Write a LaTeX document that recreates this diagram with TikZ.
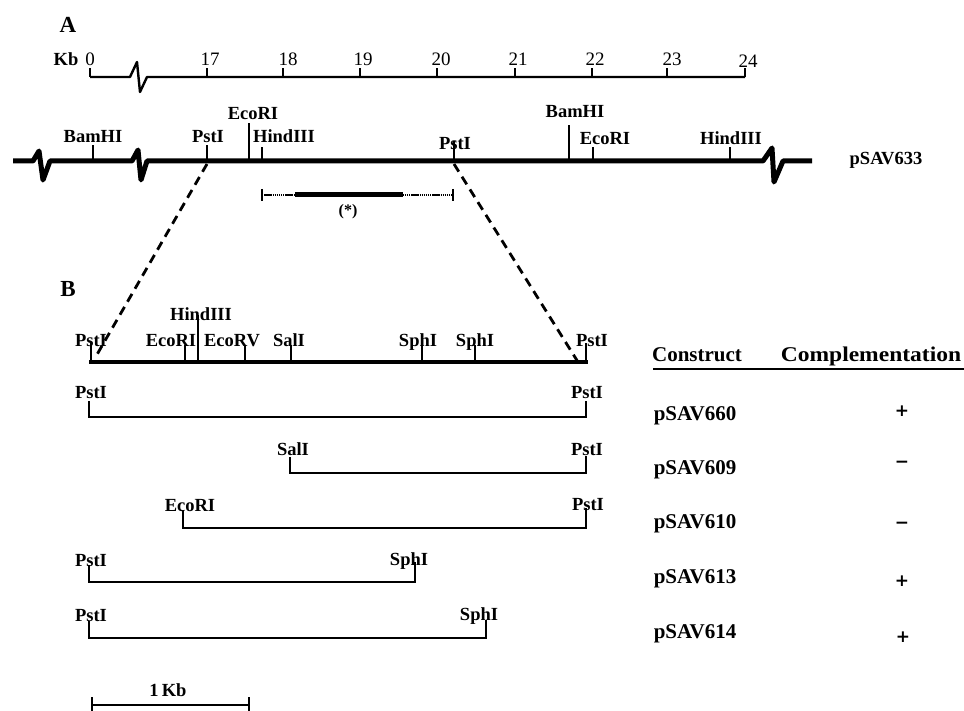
\documentclass[tikz,border=0pt]{standalone}
\usepackage{fontspec}
\setmainfont{Liberation Serif}
\newfontfamily\signfont{DejaVu Sans}
\begin{document}
\begin{tikzpicture}[x=1pt,y=-1pt,
  lab/.style={font=\fontsize{18.5}{20}\selectfont\bfseries, anchor=base, inner sep=0pt},
  num/.style={font=\fontsize{19}{20}\selectfont, anchor=base, inner sep=0pt},
  tab/.style={font=\fontsize{21}{24}\selectfont\bfseries, anchor=base, inner sep=0pt},
  big/.style={font=\fontsize{23}{26}\selectfont\bfseries, anchor=base, inner sep=0pt},
  sign/.style={font=\signfont\fontsize{17}{20}\selectfont\bfseries, inner sep=0pt},
  scaleline/.style={line width=2.4pt, line join=round},
  dna/.style={line width=5pt, line join=round},
  site/.style={line width=2.3pt},
  frag/.style={line width=2.7pt, line join=miter},
  zoomline/.style={line width=2.8pt, dash pattern=on 9pt off 6pt},
  fine/.style={line width=1.6pt, dash pattern=on 1.4pt off 0.7pt},
]
\useasboundingbox (0,0) rectangle (964,711);

% ---------- A : kb scale ----------
\node[big] (lA) at (68,33) {A};
\node[lab] (kb) at (66,66) {Kb};
\coordinate (s0) at (90,77);
\coordinate (s24) at (745,77);
\draw[scaleline] (s0) -- (130,77) -- (137,62) -- (140,92) -- (147,77) -- (s24);
\foreach \x/\t in {90/0,207/17,283/18,360/19,437/20,515/21,592/22,667/23,745/24}{
  \draw[line width=2pt] (\x,77) -- (\x,68);
}
\node[num] (n0) at (90,66) {0};
\node[num] (n17) at (210,66) {17};
\node[num] (n18) at (288,66) {18};
\node[num] (n19) at (363,66) {19};
\node[num] (n20) at (441,66) {20};
\node[num] (n21) at (518,66) {21};
\node[num] (n22) at (595,66) {22};
\node[num] (n23) at (672,66) {23};
\node[num] (n24) at (748,68) {24};

% ---------- A : pSAV633 map ----------
\coordinate (mL) at (13,161);
\coordinate (mR) at (812,161);
\draw[dna] (mL) -- (33,161) -- (39,151) -- (43,180) -- (50,161)
  -- (132,161) -- (138,150) -- (141,180) -- (147,161)
  -- (763,161) -- (772,148) -- (774,182) -- (783,161) -- (mR);
\coordinate (mBam1) at (93,161);
\coordinate (mPst1) at (207,161);
\coordinate (mEco1) at (249,161);
\coordinate (mHin1) at (262,161);
\coordinate (mPst2) at (454,161);
\coordinate (mBam2) at (569,161);
\coordinate (mEco2) at (593,161);
\coordinate (mHin2) at (730,161);
\draw[site] (mBam1) -- ++(0,-16);
\draw[site] (mPst1) -- ++(0,-16);
\draw[site] (mEco1) -- ++(0,-38);
\draw[site] (mHin1) -- ++(0,-14);
\draw[site] (mPst2) -- ++(0,-20);
\draw[site] (mBam2) -- ++(0,-36);
\draw[site] (mEco2) -- ++(0,-14);
\draw[site] (mHin2) -- ++(0,-14);
\node[lab] (tBam1) at (93,143) {BamHI};
\node[lab] (tPst1) at (208,143) {PstI};
\node[lab] (tEco1) at (253,120) {EcoRI};
\node[lab] (tHin1) at (284,143) {HindIII};
\node[lab] (tPst2) at (455,150) {PstI};
\node[lab] (tBam2) at (575,118) {BamHI};
\node[lab] (tEco2) at (605,145) {EcoRI};
\node[lab] (tHin2) at (731,145) {HindIII};
\node[lab] (tMap) at (886,165) {pSAV633};

% (*) region
\coordinate (rL) at (262,195);
\coordinate (rR) at (453,195);
\draw[fine] (rL) -- (rR);
\draw[line width=5pt] (295,195) -- (403,195);
\draw[line width=1.6pt] (262,189) -- (262,201);
\draw[line width=1.6pt] (453,189) -- (453,201);
\node[lab, font=\fontsize{16}{18}\selectfont\bfseries] (star) at (348,216) {(*)};

% ---------- B : enlarged map ----------
\node[big] (lB) at (68,297) {B};
\coordinate (bL) at (89,362);
\coordinate (bR) at (588,362);
\draw[line width=4.6pt] (bL) -- (bR);
\coordinate (zL) at (95,358);
\coordinate (zR) at (578,362);
\draw[zoomline] (207,164) -- (zL);
\draw[zoomline] (454,164) -- (zR);
\foreach \x/\top in {91/343,185/345,198/315,245/345,291/345,422/345,475/345,586/343}{
  \draw[site] (\x,362) -- (\x,\top);
}
\node[lab] (bPst1) at (91,346) {PstI};
\node[lab] (bEco) at (171,346) {EcoRI};
\node[lab] (bHin) at (201,321) {HindIII};
\node[lab] (bEcoV) at (232,346) {EcoRV};
\node[lab] (bSal) at (289,346) {SalI};
\node[lab] (bSph1) at (418,346) {SphI};
\node[lab] (bSph2) at (475,346) {SphI};
\node[lab] (bPst2) at (592,346) {PstI};

% ---------- fragments ----------
\draw[frag] (89,401) -- (89,417) -- (586,417) -- (586,401);
\node[lab] (f1l) at (91,398) {PstI};
\node[lab] (f1r) at (587,398) {PstI};

\draw[frag] (290,457) -- (290,473) -- (586,473) -- (586,456);
\node[lab] (f2l) at (293,455) {SalI};
\node[lab] (f2r) at (587,455) {PstI};

\draw[frag] (183,510) -- (183,528) -- (586,528) -- (586,508);
\node[lab] (f3l) at (190,511) {EcoRI};
\node[lab] (f3r) at (588,510) {PstI};

\draw[frag] (89,565) -- (89,582) -- (415,582) -- (415,562);
\node[lab] (f4l) at (91,566) {PstI};
\node[lab] (f4r) at (409,565) {SphI};

\draw[frag] (89,621) -- (89,638) -- (486,638) -- (486,620);
\node[lab] (f5l) at (91,621) {PstI};
\node[lab] (f5r) at (479,620) {SphI};

% ---------- 1 Kb bar ----------
\coordinate (kL) at (92,705);
\coordinate (kR) at (249,705);
\draw[line width=2.4pt] (kL) -- (kR);
\draw[line width=2pt] (92,697) -- (92,711);
\draw[line width=2pt] (249,697) -- (249,711);
\node[lab] (kbl) at (168,696) {1\,Kb};

% ---------- table ----------
\node[tab] (hC) at (697,362) {Construct};
\node[tab] (hM) at (871,362) {\scalebox{1.12}[1]{Complementation}};
\coordinate (uL) at (653,369);
\coordinate (uR) at (964,369);
\draw[line width=2pt] (uL) -- (uR);
\node[tab] (c1) at (695,420) {pSAV660};
\node[tab] (c2) at (695,474) {pSAV609};
\node[tab] (c3) at (695,528) {pSAV610};
\node[tab] (c4) at (695,583) {pSAV613};
\node[tab] (c5) at (695,638) {pSAV614};
\node[sign] (p1) at (902,411) {+};
\node[sign] (p2) at (902,464) {−};
\node[sign] (p3) at (902,525) {−};
\node[sign] (p4) at (902,581) {+};
\node[sign] (p5) at (903,637) {+};
\end{tikzpicture}
\end{document}
